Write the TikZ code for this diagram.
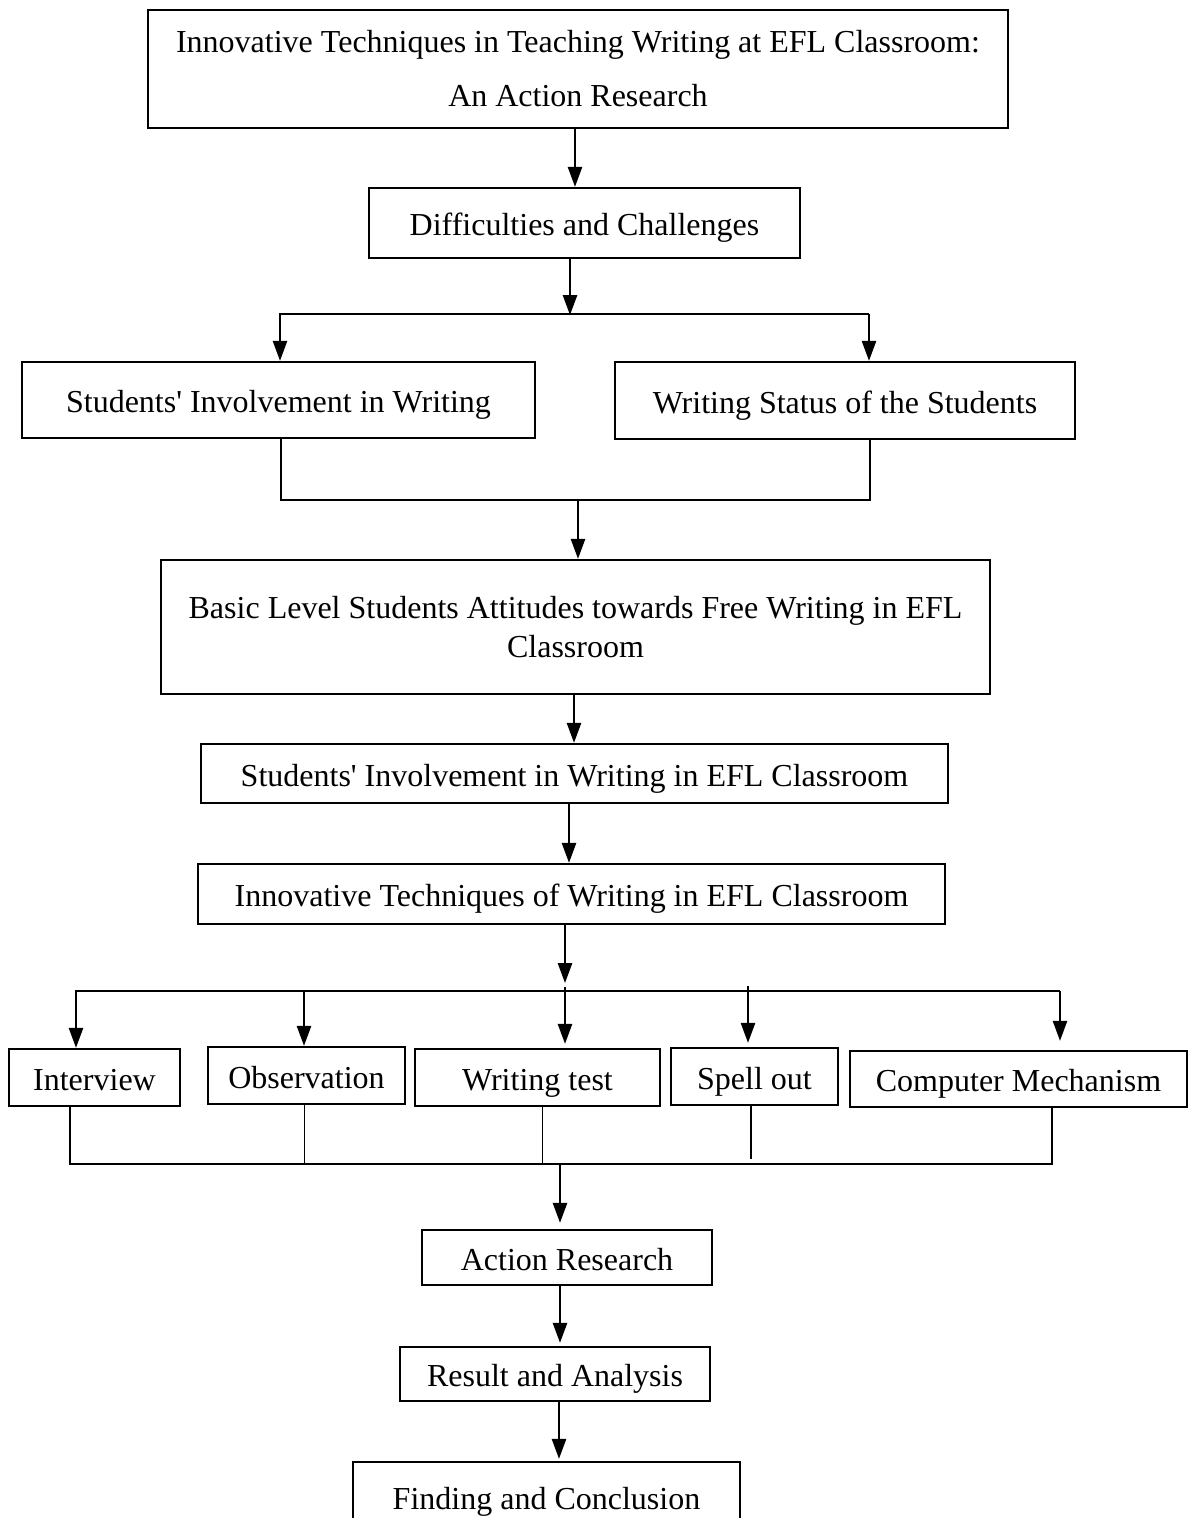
\documentclass[tikz,border=0pt]{standalone}
\usepackage{fontspec}
\setmainfont{Liberation Serif}
\usetikzlibrary{arrows.meta}
\newcommand{\apos}{\textquotesingle}
\begin{document}
\begin{tikzpicture}[x=1pt,y=-1pt,
  bx/.style={draw, line width=2.2pt, inner sep=0pt, align=center, font=\fontsize{32}{39}\selectfont},
  one/.style={text height=25pt, text depth=0pt},
  arr/.style={line width=2.5pt, line join=miter, -{Triangle[length=20pt,width=14pt]}},
  ln/.style={line width=2.2pt, line join=miter},
  thinln/.style={line width=1pt}]
\clip (0,0) rectangle (1189,1518);
\fill[white] (0,0) rectangle (1189,1518);

% nodes
\node[bx, minimum width=860pt, minimum height=118pt, font=\fontsize{32}{54}\selectfont] (title) at (578,69)
  {Innovative Techniques in Teaching Writing at EFL Classroom:\\An Action Research};
\node[bx, one, minimum width=431pt, minimum height=70pt] (diff) at (584.5,223) {Difficulties and Challenges};
\node[bx, one, minimum width=513pt, minimum height=76pt] (sinv) at (278.5,400) {Students\apos{} Involvement in Writing};
\node[bx, one, minimum width=460pt, minimum height=77pt] (wstat) at (845,400.5) {Writing Status of the Students};
\node[bx, minimum width=829pt, minimum height=134pt] (basic) at (575.5,627)
  {Basic Level Students Attitudes towards Free Writing in EFL\\Classroom};
\node[bx, one, minimum width=747pt, minimum height=59pt] (sinv2) at (574.5,773.5) {Students\apos{} Involvement in Writing in EFL Classroom};
\node[bx, one, minimum width=747pt, minimum height=60pt] (itech) at (571.5,894) {Innovative Techniques of Writing in EFL Classroom};
\node[bx, one, minimum width=171pt, minimum height=57pt] (intv) at (94.5,1077.5) {Interview};
\node[bx, one, minimum width=197pt, minimum height=57pt] (obs) at (306.5,1075.5) {Observation};
\node[bx, one, minimum width=245pt, minimum height=57pt] (wtest) at (537.5,1077.5) {Writing test};
\node[bx, one, minimum width=167pt, minimum height=57pt] (spell) at (754.5,1076.5) {Spell out};
\node[bx, one, minimum width=337pt, minimum height=56pt] (comp) at (1018.5,1079) {Computer Mechanism};
\node[bx, one, minimum width=290pt, minimum height=55pt] (action) at (567,1257.5) {Action Research};
\node[bx, one, minimum width=310pt, minimum height=54pt] (result) at (555,1374) {Result and Analysis};
\node[bx, one, minimum width=387pt, minimum height=70pt] (finding) at (546.5,1497) {Finding and Conclusion};

% junction coordinates
\coordinate (hl) at (280,314);
\coordinate (hr) at (869,314);
\coordinate (m1) at (578,500);
\coordinate (h3l) at (76,991);
\coordinate (h3r) at (1060,991);
\coordinate (h3o) at (304,991);
\coordinate (h3w) at (565,987);
\coordinate (h3s) at (748,986);
\coordinate (b5) at (1052,1164);
\coordinate (j4) at (560,1164);

% connectors
\draw[arr] ([xshift=-3pt]title.south) -- ([xshift=-3pt]title.south |- diff.north);
\draw[arr] ([xshift=-14.5pt]diff.south) -- ++(0,56);
\draw[arr] (hr) -- (hl) -- (hl |- sinv.north);
\draw[arr] (hr) -- (hr |- wstat.north);
\draw[ln] ([xshift=2.5pt]sinv.south) |- (m1) -| ([xshift=25pt]wstat.south);
\draw[arr] (m1) -- (m1 |- basic.north);
\draw[arr] ([xshift=-1.5pt]basic.south) -- ([xshift=-1.5pt]basic.south |- sinv2.north);
\draw[arr] ([xshift=-5.5pt]sinv2.south) -- ([xshift=-5.5pt]sinv2.south |- itech.north);
\draw[arr] ([xshift=-6.5pt]itech.south) -- ++(0,58);
\draw[arr] (h3r) -- (h3l) -- (h3l |- intv.north);
\draw[arr] (h3o) -- (h3o |- obs.north);
\draw[arr] (h3w) -- ([yshift=4pt]h3w |- wtest.north);
\draw[arr] (h3s) -- ([yshift=4pt]h3s |- spell.north);
\draw[arr] (h3r) -- ([yshift=9pt]h3r |- comp.north);

\draw[ln] ([xshift=-24.5pt]intv.south) |- (b5) -- ([xshift=33.5pt]comp.south);
\draw[thinln] ([xshift=-2.5pt]obs.south) -- ([xshift=-2.5pt]obs.south |- b5);
\draw[thinln] ([xshift=4.5pt]wtest.south) -- ([xshift=4.5pt]wtest.south |- b5);
\draw[line width=1.4pt] ([xshift=-3.5pt]spell.south) -- ++(0,53);
\draw[arr] (j4) -- ([yshift=6pt]j4 |- action.north);
\draw[arr] ([xshift=-7pt]action.south) -- ([xshift=-7pt,yshift=3pt]action.south |- result.north);
\draw[arr] ([xshift=4pt]result.south) -- ([xshift=4pt,yshift=2pt]result.south |- finding.north);
\end{tikzpicture}
\end{document}
